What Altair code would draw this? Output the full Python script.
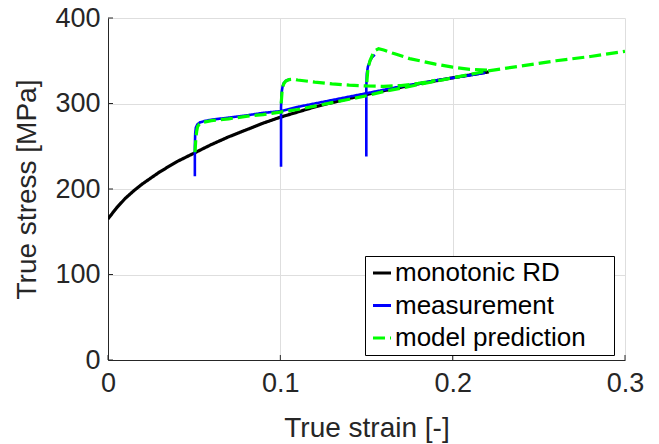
import altair as alt
import pandas as pd

# ---- data ----
series_names = ["monotonic RD", "measurement", "model prediction"]
series_colors = ["#000000", "#0000ff", "#00ff00"]

mono_strain = [0, 0.005, 0.01, 0.015, 0.02, 0.03, 0.04, 0.05, 0.06, 0.07, 0.08, 0.09,
               0.10, 0.12, 0.14, 0.16, 0.18, 0.20, 0.221]
mono_stress = [165, 178, 189, 198, 206, 220, 232, 242, 252, 261, 269, 277,
               284, 296, 306, 315, 323, 330, 337]

meas1_strain = [0.0504, 0.0504, 0.0506, 0.051, 0.052, 0.0535, 0.056, 0.06, 0.07, 0.08, 0.09,
                0.10, 0.11, 0.12, 0.13, 0.14, 0.15, 0.16, 0.17, 0.18, 0.19, 0.20, 0.21, 0.219]
meas1_stress = [215, 250, 265, 272, 276, 278, 279.5, 281, 283.5, 286, 289,
                291, 296, 300, 304, 308, 312, 316, 320, 323, 327, 330, 333, 336]
meas2_strain = [0.1004, 0.1004, 0.1007, 0.1013, 0.102, 0.1035, 0.1055]
meas2_stress = [226, 295, 312, 320, 324, 327, 328]
meas3_strain = [0.1499, 0.1499, 0.1502, 0.1508, 0.1519, 0.1532, 0.1548]
meas3_stress = [238, 320, 335, 343, 349, 354, 357]

model1_strain = [0.0505, 0.051, 0.0515, 0.052, 0.053, 0.055, 0.06, 0.07, 0.08, 0.09, 0.10,
                 0.11, 0.12, 0.13, 0.14, 0.15, 0.16, 0.17, 0.18, 0.19, 0.20, 0.21, 0.22,
                 0.24, 0.26, 0.28, 0.30]
model1_stress = [243, 260, 268, 273, 276, 278, 280, 282, 285, 287, 290,
                 293, 297, 301, 305, 309, 314, 318, 322, 326, 330, 334, 338,
                 344, 350, 355, 361]
model2_strain = [0.1005, 0.101, 0.1015, 0.102, 0.103, 0.105, 0.108, 0.11, 0.12, 0.13, 0.14,
                 0.15, 0.16, 0.17, 0.18, 0.19]
model2_stress = [300, 314, 320, 323, 326, 328, 328.5, 327.5, 325, 323, 321.5,
                 320.5, 320, 321, 323.5, 327]
model3_strain = [0.1502, 0.1508, 0.152, 0.1535, 0.155, 0.157, 0.16, 0.165, 0.175, 0.19,
                 0.20, 0.21, 0.222]
model3_stress = [325, 340, 350, 357, 362, 364, 362.5, 359, 352.5, 346, 342.5, 340, 339]

x_ticks = [0, 0.1, 0.2, 0.3]
y_ticks = [0, 100, 200, 300, 400]


def frame(strain, stress, series, seg):
    return pd.DataFrame({"strain": strain, "stress": stress, "series": series,
                         "seg": seg, "idx": list(range(len(strain)))})


df_mono = frame(mono_strain, mono_stress, series_names[0], "m")
df_meas = pd.concat([frame(meas1_strain, meas1_stress, series_names[1], "a"),
                     frame(meas2_strain, meas2_stress, series_names[1], "b"),
                     frame(meas3_strain, meas3_stress, series_names[1], "c")])
df_model = pd.concat([frame(model1_strain, model1_stress, series_names[2], "a"),
                      frame(model2_strain, model2_stress, series_names[2], "b"),
                      frame(model3_strain, model3_stress, series_names[2], "c")])

FONT = "Liberation Sans"
W, H = 517, 342

x_scale = alt.Scale(domain=[0, 0.3], nice=False)
y_scale = alt.Scale(domain=[0, 400], nice=False)

x_enc = alt.X("strain:Q", scale=x_scale,
              axis=alt.Axis(values=x_ticks, format="~g", title="True strain [-]",
                            labelPadding=10, titlePadding=18, labelFlush=False))
y_enc = alt.Y("stress:Q", scale=y_scale,
              axis=alt.Axis(values=y_ticks, title="True stress [MPa]",
                            labelPadding=8, titlePadding=13, labelFlush=False))

legend_def = dict(title=" ", titleOrient="right", titlePadding=24,
                  orient="none", legendX=257, legendY=238)
color_enc = alt.Color("series:N",
                      scale=alt.Scale(domain=series_names, range=series_colors),
                      legend=alt.Legend(**legend_def))
dash_enc = alt.StrokeDash("series:N",
                          scale=alt.Scale(domain=series_names,
                                          range=[[1, 0], [1, 0], [12, 5]]),
                          legend=alt.Legend(**legend_def))


def lines(df, width):
    return alt.Chart(df).mark_line(strokeWidth=width, strokeCap="butt", clip=True).encode(
        x=x_enc, y=y_enc, color=color_enc, strokeDash=dash_enc,
        detail="seg:N", order="idx:Q")


xt = alt.Chart(pd.DataFrame({"t": x_ticks})).mark_rule(color="#262626", strokeWidth=1).encode(
    x=alt.X("t:Q", scale=x_scale), y=alt.value(H), y2=alt.value(H - 5))
yt = alt.Chart(pd.DataFrame({"t": y_ticks})).mark_rule(color="#262626", strokeWidth=1).encode(
    y=alt.Y("t:Q", scale=y_scale), x=alt.value(0), x2=alt.value(5))

chart = alt.layer(
    lines(df_mono, 3.2), lines(df_meas, 2.6), lines(df_model, 3.2), xt, yt
).properties(
    width=W, height=H,
    autosize=alt.AutoSizeParams(type="none"),
    padding={"left": 108, "top": 18, "right": 34, "bottom": 84},
).configure_view(stroke=None).configure_axis(
    labelFont=FONT, titleFont=FONT, labelFontSize=27, titleFontSize=28,
    labelColor="#262626", titleColor="#262626", titleFontWeight="normal",
    gridColor="#dedede", gridWidth=1, domainColor="#262626", domainWidth=1,
    ticks=False,
).configure_legend(
    labelFont=FONT, labelFontSize=26, labelColor="#000000", titleFont=FONT, titleFontSize=10,
    symbolType="stroke", symbolSize=324, symbolStrokeWidth=3, labelOffset=0,
    rowPadding=6.5, padding=4, strokeColor="#000000", fillColor="#ffffff",
    cornerRadius=0, labelLimit=400,
)

chart.save("out.html", embed_options={"renderer": "svg", "actions": False})
